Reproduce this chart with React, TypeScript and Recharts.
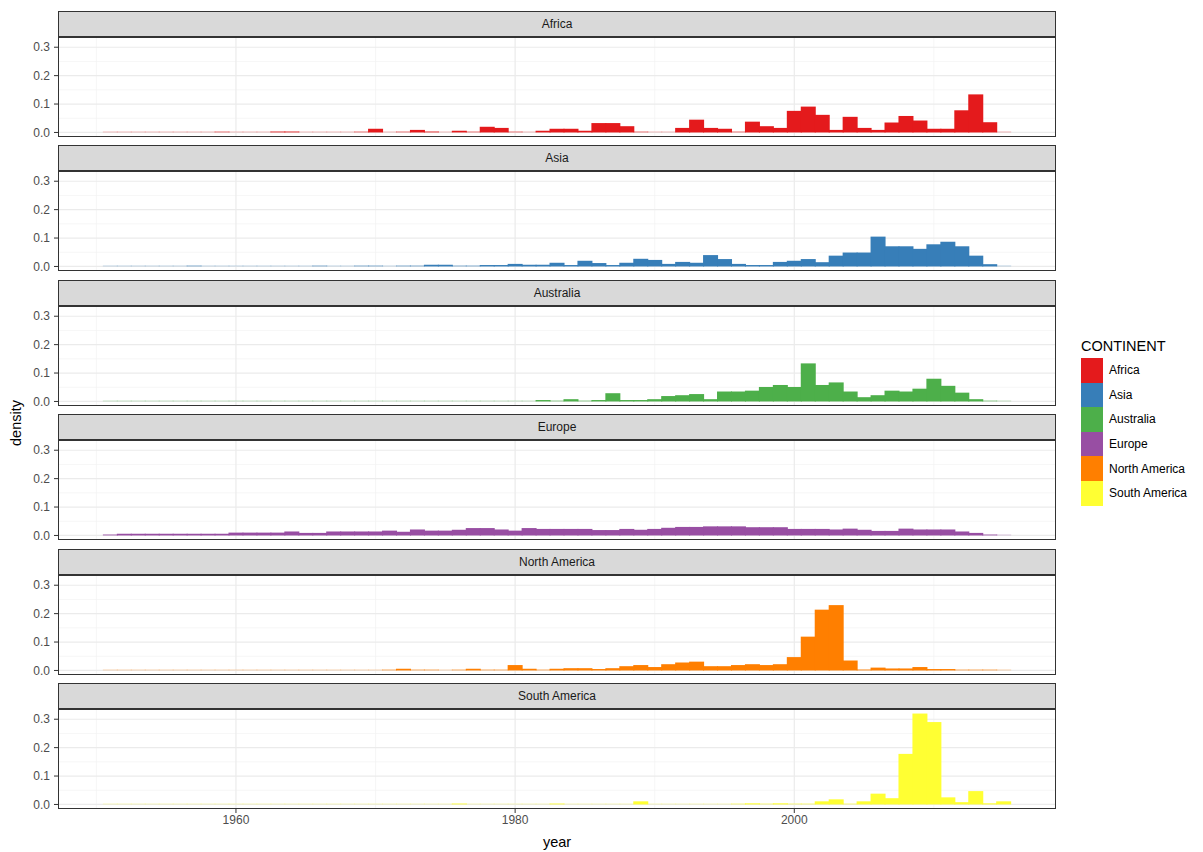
import { BarChart, Bar, XAxis, YAxis, CartesianGrid } from "recharts"

// histogram bins, one per year (centre of each 1-year bin)
const YEARS = [
  1951, 1952, 1953, 1954, 1955, 1956, 1957, 1958, 1959, 1960,
  1961, 1962, 1963, 1964, 1965, 1966, 1967, 1968, 1969, 1970,
  1971, 1972, 1973, 1974, 1975, 1976, 1977, 1978, 1979, 1980,
  1981, 1982, 1983, 1984, 1985, 1986, 1987, 1988, 1989, 1990,
  1991, 1992, 1993, 1994, 1995, 1996, 1997, 1998, 1999, 2000,
  2001, 2002, 2003, 2004, 2005, 2006, 2007, 2008, 2009, 2010,
  2011, 2012, 2013, 2014, 2015,
]

const AFRICA = [
  0, 0, 0, 0, 0, 0, 0, 0, 0.002, 0,
  0, 0, 0.003, 0.003, 0, 0, 0, 0, 0.002, 0.013,
  0, 0.002, 0.009, 0.003, 0, 0.006, 0.002, 0.02, 0.016, 0.002,
  0, 0.006, 0.013, 0.013, 0.006, 0.033, 0.033, 0.022, 0.002, 0,
  0, 0.016, 0.045, 0.016, 0.013, 0.002, 0.038, 0.022, 0.016, 0.076,
  0.091, 0.062, 0.009, 0.055, 0.016, 0.009, 0.035, 0.058, 0.042, 0.013,
  0.013, 0.078, 0.134, 0.036, 0.001,
]

const ASIA = [
  0, 0, 0, 0, 0, 0, 0.002, 0, 0, 0,
  0, 0, 0, 0, 0, 0.002, 0, 0, 0.002, 0.002,
  0, 0.002, 0.002, 0.006, 0.006, 0.002, 0.002, 0.005, 0.005, 0.009,
  0.006, 0.006, 0.013, 0.005, 0.02, 0.012, 0.005, 0.013, 0.027, 0.023,
  0.009, 0.016, 0.013, 0.04, 0.026, 0.009, 0.005, 0.005, 0.016, 0.02,
  0.026, 0.015, 0.038, 0.049, 0.049, 0.105, 0.071, 0.071, 0.062, 0.078,
  0.087, 0.071, 0.038, 0.008, 0.001,
]

const AUSTRALIA = [
  0, 0, 0, 0, 0, 0, 0, 0, 0, 0,
  0, 0, 0, 0, 0, 0, 0, 0, 0, 0,
  0, 0, 0, 0, 0, 0, 0, 0, 0, 0,
  0, 0.005, 0.002, 0.008, 0.002, 0.005, 0.029, 0.005, 0.005, 0.008,
  0.019, 0.022, 0.026, 0.008, 0.035, 0.035, 0.038, 0.051, 0.058, 0.051,
  0.134, 0.058, 0.067, 0.035, 0.015, 0.022, 0.038, 0.035, 0.045, 0.08,
  0.055, 0.031, 0.008, 0.002, 0.001,
]

const EUROPE = [
  0.003, 0.006, 0.006, 0.006, 0.006, 0.006, 0.006, 0.006, 0.006, 0.01,
  0.01, 0.01, 0.01, 0.014, 0.009, 0.009, 0.014, 0.014, 0.014, 0.014,
  0.017, 0.013, 0.021, 0.017, 0.017, 0.02, 0.026, 0.026, 0.021, 0.017,
  0.026, 0.023, 0.023, 0.023, 0.023, 0.019, 0.019, 0.023, 0.02, 0.023,
  0.027, 0.03, 0.03, 0.032, 0.032, 0.032, 0.029, 0.029, 0.029, 0.023,
  0.023, 0.023, 0.021, 0.024, 0.02, 0.016, 0.016, 0.024, 0.021, 0.021,
  0.021, 0.014, 0.009, 0.003, 0.001,
]

const NORTH_AMERICA = [
  0, 0, 0, 0, 0, 0, 0, 0, 0, 0,
  0, 0, 0, 0, 0, 0, 0, 0, 0, 0,
  0.002, 0.006, 0.002, 0.002, 0, 0.002, 0.006, 0.002, 0.002, 0.019,
  0.006, 0.002, 0.006, 0.008, 0.008, 0.005, 0.008, 0.015, 0.019, 0.012,
  0.022, 0.028, 0.031, 0.015, 0.015, 0.019, 0.022, 0.019, 0.022, 0.047,
  0.119, 0.214, 0.23, 0.035, 0.003, 0.01, 0.007, 0.007, 0.012, 0.005,
  0.005, 0.002, 0.002, 0.002, 0.001,
]

const SOUTH_AMERICA = [
  0, 0, 0, 0, 0, 0, 0, 0, 0, 0,
  0, 0, 0, 0, 0, 0, 0, 0, 0, 0,
  0, 0, 0, 0, 0, 0.003, 0, 0, 0, 0,
  0, 0, 0.003, 0, 0, 0, 0, 0, 0.011, 0,
  0, 0, 0, 0, 0, 0.002, 0.004, 0.002, 0.004, 0.002,
  0.002, 0.011, 0.018, 0.002, 0.011, 0.038, 0.022, 0.178, 0.32, 0.29,
  0.025, 0.008, 0.047, 0.004, 0.011,
]

const CONTINENTS = ["Africa", "Asia", "Australia", "Europe", "North America", "South America"]
const SERIES = [AFRICA, ASIA, AUSTRALIA, EUROPE, NORTH_AMERICA, SOUTH_AMERICA]
const COLORS = ["#E41A1C", "#377EB8", "#4DAF4A", "#984EA3", "#FF7F00", "#FFFF33"]

const X_TICKS = [1960, 1980, 2000]
const X_MINOR = [1950, 1970, 1990, 2010]
const Y_TICKS = [0, 0.1, 0.2, 0.3]
const Y_MINOR = [0.05, 0.15, 0.25]

const X_DOMAIN = [1947.25, 2018.75]
const Y_DOMAIN = [-0.016, 0.336]

const PLOT_LEFT = 58
const PLOT_RIGHT = 1056
const STRIP_H = 26
const PANEL_H = 100
const FACET_PITCH = 134.5
const AXIS_H = 30
const PAD_BOTTOM = 8
const FONT = "'Liberation Sans', Arial, sans-serif"

// ggplot bins touch each other; empty / tiny bins leave a faint sliver
const HistBar = (props: any) => {
  const { x, y, width, height, fill } = props
  if (height == null || isNaN(height)) return null
  const bx = x - 0.5
  const bw = width + 1
  if (height < 1) {
    return (
      <rect x={bx} y={y + height - 1} width={bw} height={1} fill={fill}
        fillOpacity={Math.max(0.25, height)} />
    )
  }
  return <rect x={bx} y={y} width={bw} height={height} fill={fill} />
}

function Facet({ name, values, color, top, last }: {
  name: string; values: number[]; color: string; top: number; last: boolean
}) {
  const rows = YEARS.map((year, i) => ({ year, density: values[i] }))
  const panelTop = top + STRIP_H
  const w = PLOT_RIGHT - PLOT_LEFT
  return (
    <>
      <div
        style={{
          position: "absolute", left: PLOT_LEFT, top, width: w, height: STRIP_H,
          background: "#d9d9d9", border: "1px solid #333", boxSizing: "border-box",
          display: "flex", alignItems: "center", justifyContent: "center",
          fontSize: 12, color: "#1a1a1a",
        }}
      >
        {name}
      </div>
      <div style={{ position: "absolute", left: 0, top: panelTop }}>
        <BarChart
          width={PLOT_RIGHT + 4}
          height={PANEL_H + (last ? AXIS_H : PAD_BOTTOM)}
          data={rows}
          margin={{ top: 0, right: 4, bottom: last ? 0 : PAD_BOTTOM, left: 0 }}
          barCategoryGap={0}
          barGap={0}
        >
          <CartesianGrid
            stroke="#f2f2f2"
            strokeWidth={0.7}
            verticalValues={X_MINOR}
            horizontalValues={Y_MINOR}
          />
          <CartesianGrid
            stroke="#ebebeb"
            strokeWidth={1.2}
            verticalValues={X_TICKS}
            horizontalValues={Y_TICKS}
          />
          <XAxis
            dataKey="year"
            type="number"
            domain={X_DOMAIN}
            ticks={X_TICKS}
            interval={0}
            hide={!last}
            height={AXIS_H}
            axisLine={false}
            tickSize={4}
            tickMargin={2}
            tickLine={{ stroke: "#333" }}
            tick={{ fill: "#4d4d4d", fontSize: 12 }}
          />
          <YAxis
            type="number"
            domain={Y_DOMAIN}
            ticks={Y_TICKS}
            interval={0}
            width={PLOT_LEFT}
            axisLine={false}
            tickSize={4}
            tickMargin={4}
            tickLine={{ stroke: "#333" }}
            tick={{ fill: "#4d4d4d", fontSize: 12 }}
            tickFormatter={(v: number) => v.toFixed(1)}
          />
          <Bar dataKey="density" fill={color} isAnimationActive={false} shape={HistBar} />
        </BarChart>
      </div>
      <div
        style={{
          position: "absolute", left: PLOT_LEFT, top: panelTop, width: w, height: PANEL_H,
          border: "1px solid #333", boxSizing: "border-box", pointerEvents: "none",
        }}
      />
    </>
  )
}

export default function App() {
  return (
    <div
      style={{
        position: "absolute", left: 0, top: 0, width: 1203, height: 852,
        background: "#fff", fontFamily: FONT,
      }}
    >
      {CONTINENTS.map((name, i) => (
        <Facet
          key={name}
          name={name}
          values={SERIES[i]}
          color={COLORS[i]}
          top={Math.round(10.5 + i * FACET_PITCH)}
          last={i === CONTINENTS.length - 1}
        />
      ))}

      <div
        style={{
          position: "absolute", left: 16, top: 423, transform: "translate(-50%, -50%) rotate(-90deg)",
          fontSize: 14.5, color: "#000", whiteSpace: "nowrap",
        }}
      >
        density
      </div>
      <div
        style={{
          position: "absolute", left: (PLOT_LEFT + PLOT_RIGHT) / 2, top: 842,
          transform: "translate(-50%, -50%)", fontSize: 14.5, color: "#000",
        }}
      >
        year
      </div>

      <div style={{ position: "absolute", left: 1081, top: 337 }}>
        <div style={{ fontSize: 14.5, lineHeight: "18px", height: 21, color: "#000" }}>CONTINENT</div>
        {CONTINENTS.map((name, i) => (
          <div key={name} style={{ display: "flex", alignItems: "center", height: 24.6 }}>
            <div style={{ width: 22, height: 24.6, background: COLORS[i] }} />
            <div style={{ marginLeft: 6, fontSize: 12, color: "#000", whiteSpace: "nowrap" }}>{name}</div>
          </div>
        ))}
      </div>
    </div>
  )
}
